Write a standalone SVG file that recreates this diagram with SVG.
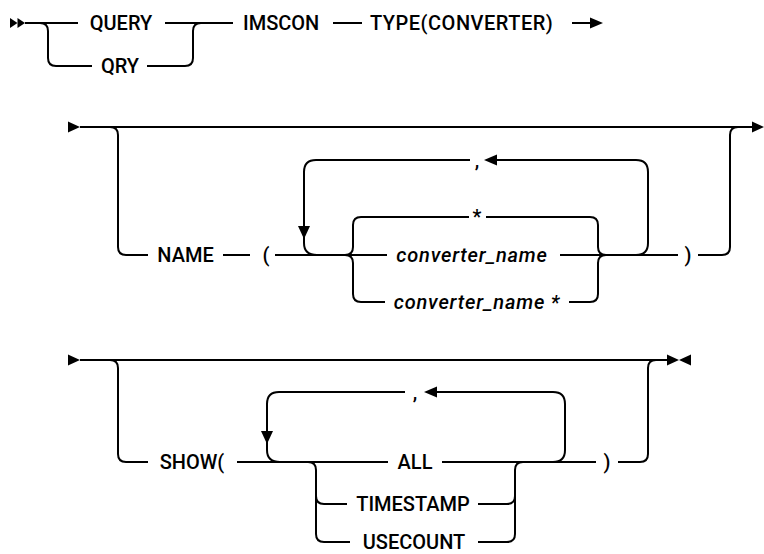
<svg xmlns="http://www.w3.org/2000/svg" width="764" height="554" viewBox="0 0 764 554">
<style>
.t{font-family:Roboto,"Liberation Sans",sans-serif;font-size:20px;font-weight:500;fill:#000}
.i{font-style:italic;letter-spacing:0.8px}
.m{text-anchor:middle}
.ln{fill:none;stroke:#000;stroke-width:2}
.ah{fill:#000}
</style>
<rect width="764" height="554" fill="#fff"/>
<g id="connectors">
<!-- row 1 -->
<path class="ln" d="M25,23 H78 M165,23 H233 M333,23 H362 M572,23 H592"/>
<path class="ln" d="M40,23 Q48,23 48,31 V58 Q48,66 56,66 H92"/>
<path class="ln" d="M147,66 H185 Q193,66 193,58 V31 Q193,23 201,23"/>
<polygon class="ah" points="10,18 17.5,23 10,28"/>
<polygon class="ah" points="17.5,18 25,23 17.5,28"/>
<polygon class="ah" points="590,17.5 603,23 590,28.5"/>
<!-- row 2 -->
<path class="ln" d="M80,127 H756"/>
<polygon class="ah" points="68,121.5 80,127 68,132.5"/>
<polygon class="ah" points="752,121.5 764,127 752,132.5"/>
<path class="ln" d="M110,127 Q118,127 118,135 V247 Q118,255 126,255 H148 M223,255 H250 M275,255 H387 M560,255 H678 M698,255 H722 Q730,255 730,247 V135 Q730,127 738,127"/>
<path class="ln" d="M470,160 H316 Q304,160 304,172 V243 Q304,255 317,255"/>
<polygon class="ah" points="298,226 310,226 304,239"/>
<path class="ln" d="M497,160 H636 Q648,160 648,172 V243 Q648,255 636,255"/>
<polygon class="ah" points="497,154.5 484,160 497,165.5"/>
<path class="ln" d="M345,255 Q353,255 353,247 V225 Q353,217 361,217 H469 M486,217 H590 Q598,217 598,225 V247 Q598,255 606,255"/>
<path class="ln" d="M345,255 Q353,255 353,263 V294 Q353,302 361,302 H385 M569,302 H590 Q598,302 598,294 V263 Q598,255 606,255"/>
<!-- row 3 -->
<path class="ln" d="M80,360 H667"/>
<polygon class="ah" points="68,354.5 80,360 68,365.5"/>
<polygon class="ah" points="667,354.5 679,360 667,365.5"/>
<polygon class="ah" points="691,354.5 679,360 691,365.5"/>
<path class="ln" d="M110,360 Q118,360 118,368 V454 Q118,462 126,462 H148 M237,462 H388 M442,462 H596 M618,462 H640 Q648,462 648,454 V368 Q648,360 656,360"/>
<path class="ln" d="M405,392 H279 Q267,392 267,404 V450 Q267,462 280,462"/>
<polygon class="ah" points="261,431 273,431 267,444"/>
<path class="ln" d="M437,392 H553 Q565,392 565,404 V450 Q565,462 553,462"/>
<polygon class="ah" points="437,386.5 424,392 437,397.5"/>
<path class="ln" d="M308,462 Q316,462 316,470 V534 Q316,542 324,542 H350 M316,496 Q316,504 324,504 H347"/>
<path class="ln" d="M478,504 H507 Q515,504 515,496 M478,542 H507 Q515,542 515,534 V470 Q515,462 523,462"/>
</g>
<g id="n-query"><text class="t m" x="121" y="30">QUERY</text></g>
<g id="n-qry"><text class="t m" x="120" y="73">QRY</text></g>
<g id="n-imscon"><text class="t" x="243" y="30">IMSCON</text></g>
<g id="n-type"><text class="t" x="370" y="30" letter-spacing="0.5">TYPE(CONVERTER)</text></g>
<g id="n-name"><text class="t m" x="185.5" y="262">NAME</text></g>
<g id="n-lparen1"><text class="t m" x="266" y="262">(</text></g>
<g id="n-comma1"><text class="t m" x="477" y="167">,</text></g>
<g id="n-star"><text class="t m" x="477" y="224">*</text></g>
<g id="n-convname"><text class="t i m" x="472" y="262">converter_name</text></g>
<g id="n-convnamestar"><text class="t i m" x="477" y="309">converter_name *</text></g>
<g id="n-rparen1"><text class="t m" x="688" y="262">)</text></g>
<g id="n-show"><text class="t m" x="192" y="469">SHOW(</text></g>
<g id="n-comma2"><text class="t m" x="415" y="399">,</text></g>
<g id="n-all"><text class="t m" x="415" y="469">ALL</text></g>
<g id="n-timestamp"><text class="t m" x="413" y="511">TIMESTAMP</text></g>
<g id="n-usecount"><text class="t m" x="414" y="549">USECOUNT</text></g>
<g id="n-rparen2"><text class="t m" x="607" y="469">)</text></g>
</svg>
